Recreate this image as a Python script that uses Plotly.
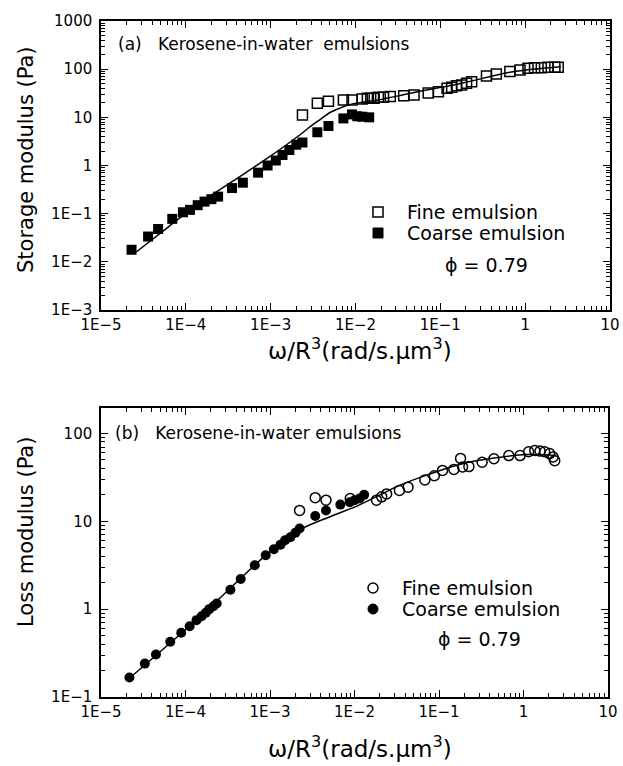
import plotly.graph_objects as go

W, H = 623, 766

# ---------------- data: storage modulus (panel a) ----------------
fine_gp_x = [2.37e-3, 3.55e-3, 4.8e-3, 7.2e-3, 9.1e-3, 1.2e-2, 1.38e-2, 1.51e-2, 1.66e-2,
             1.86e-2, 2.14e-2, 2.57e-2, 3.7e-2, 4.9e-2, 7.2e-2, 9.5e-2, 0.12, 0.136, 0.155,
             0.178, 0.204, 0.234, 0.35, 0.457, 0.66, 0.87, 1.08, 1.29, 1.55, 1.86, 2.24, 2.45]
fine_gp_y = [11.2, 19.5, 21.5, 23, 23, 24, 25, 25, 25,
             26, 26, 27, 28, 29, 32, 34, 40, 42, 45,
             47, 51, 55, 72, 79, 89, 96, 105, 107, 107, 110, 110, 110]

coarse_gp_x = [2.29e-5, 3.59e-5, 4.71e-5, 6.92e-5, 9.25e-5, 1.12e-4, 1.38e-4, 1.66e-4, 2.0e-4,
               2.4e-4, 3.5e-4, 4.7e-4, 7.1e-4, 9.2e-4, 1.15e-3, 1.38e-3, 1.66e-3, 2.0e-3,
               2.37e-3, 3.55e-3, 4.8e-3, 7.2e-3, 9.1e-3, 1.05e-2, 1.2e-2, 1.45e-2]
coarse_gp_y = [0.0178, 0.0335, 0.048, 0.078, 0.107, 0.12, 0.15, 0.178, 0.2,
               0.226, 0.34, 0.44, 0.71, 1.0, 1.27, 1.65, 2.1, 2.7,
               3.0, 4.9, 6.6, 9.5, 11.5, 10.5, 10.3, 10.0]

fit_gp_x = [2.6e-5, 6.3e-5, 1.45e-4, 3.55e-4, 8.8e-4, 2.2e-3, 2.95e-3, 4.0e-3, 5.0e-3,
            6.3e-3, 8.3e-3, 1.26e-2, 1.86e-2, 4.6e-2, 0.178, 0.69, 2.63]
fit_gp_y = [0.016, 0.054, 0.166, 0.47, 1.35, 4.3, 6.5, 9.5, 12.6,
            15.1, 18.2, 20.9, 23, 32, 51, 87, 112]

# ---------------- data: loss modulus (panel b) ----------------
fine_gpp_x = [2.24e-3, 3.43e-3, 4.6e-3, 8.9e-3, 1.82e-2, 2.1e-2, 2.4e-2, 3.4e-2, 4.3e-2,
              6.8e-2, 8.8e-2, 0.11, 0.15, 0.18, 0.19, 0.226, 0.324, 0.447, 0.67, 0.91,
              1.15, 1.36, 1.57, 1.78, 2.04, 2.24, 2.34]
fine_gpp_y = [13.3, 18.6, 17.4, 18.2, 17.4, 19, 20.5, 22.5, 24.5,
              29.5, 33, 38, 39, 52, 41.5, 42, 47, 51.5, 56, 56,
              62, 64, 63, 62, 59, 54, 49]

coarse_gpp_x = [2.17e-5, 3.3e-5, 4.47e-5, 6.6e-5, 8.9e-5, 1.12e-4, 1.35e-4, 1.55e-4, 1.74e-4,
                1.91e-4, 2.14e-4, 2.34e-4, 3.4e-4, 4.5e-4, 6.6e-4, 8.9e-4, 1.11e-3, 1.33e-3,
                1.51e-3, 1.74e-3, 2.0e-3, 2.24e-3, 3.43e-3, 4.6e-3, 6.8e-3, 8.8e-3, 1.0e-2,
                1.15e-2, 1.3e-2]
coarse_gpp_y = [0.167, 0.24, 0.305, 0.425, 0.54, 0.64, 0.75, 0.83, 0.91,
                1.0, 1.08, 1.16, 1.66, 2.2, 3.16, 4.1, 4.8, 5.4,
                6.1, 6.6, 7.4, 8.3, 11.5, 13.3, 15.5, 16.5, 17.4,
                18.2, 20]

fit_gpp_x = [2.4e-5, 1.46e-4, 8.9e-4, 2.2e-3, 5.4e-3, 1.1e-2, 2.0e-2, 3.2e-2, 7.4e-2,
             0.18, 0.45, 1.1, 2.45]
fit_gpp_y = [0.178, 0.81, 4.1, 7.9, 11.5, 15.1, 20, 25, 34,
             44.7, 52.5, 57.5, 56]

x_tick_vals = [1e-5, 1e-4, 1e-3, 1e-2, 1e-1, 1, 10]
x_tick_text = ["1E\u22125", "1E\u22124", "1E\u22123", "1E\u22122", "1E\u22121", "1", "10"]
y1_tick_vals = [1e-3, 1e-2, 1e-1, 1, 10, 100, 1000]
y1_tick_text = ["1E\u22123", "1E\u22122", "1E\u22121", "1", "10", "100", "1000"]
y2_tick_vals = [1e-1, 1, 10, 100]
y2_tick_text = ["1E\u22121", "1", "10", "100"]

FONT = "DejaVu Sans"


def minor_vals(lo, hi):
    out = []
    for e in range(lo, hi):
        for m in range(2, 10):
            out.append(m * 10 ** e)
    return out


def px(x):
    return x / W


def py(y):
    return 1 - y / H


fig = go.Figure()

# panel a
fig.add_trace(go.Scatter(x=fit_gp_x, y=fit_gp_y, mode="lines", line=dict(color="black", width=1.5, shape="spline"),
                         xaxis="x", yaxis="y", showlegend=False))
fig.add_trace(go.Scatter(x=coarse_gp_x, y=coarse_gp_y, mode="markers",
                         marker=dict(symbol="square", size=10, color="black"),
                         xaxis="x", yaxis="y", showlegend=False))
fig.add_trace(go.Scatter(x=fine_gp_x, y=fine_gp_y, mode="markers",
                         marker=dict(symbol="square-open", size=10, color="black", line=dict(width=1.5)),
                         xaxis="x", yaxis="y", showlegend=False))
# panel b
fig.add_trace(go.Scatter(x=fit_gpp_x, y=fit_gpp_y, mode="lines", line=dict(color="black", width=1.5, shape="spline"),
                         xaxis="x2", yaxis="y2", showlegend=False))
fig.add_trace(go.Scatter(x=coarse_gpp_x, y=coarse_gpp_y, mode="markers",
                         marker=dict(symbol="circle", size=10, color="black"),
                         xaxis="x2", yaxis="y2", showlegend=False))
fig.add_trace(go.Scatter(x=fine_gpp_x, y=fine_gpp_y, mode="markers",
                         marker=dict(symbol="circle-open", size=10, color="black", line=dict(width=1.5)),
                         xaxis="x2", yaxis="y2", showlegend=False))

axis_common = dict(
    type="log", showgrid=False, zeroline=False, showline=True, linecolor="black", linewidth=1.5,
    mirror="ticks", ticks="inside", ticklen=7, tickwidth=1.2, tickcolor="black",
    tickfont=dict(family=FONT, size=15, color="black"), automargin=False,
)

fig.update_layout(
    width=W, height=H, margin=dict(l=0, r=0, t=0, b=0),
    paper_bgcolor="white", plot_bgcolor="white", showlegend=False,
    xaxis=dict(axis_common, range=[-5, 1], domain=[px(101), px(610)], anchor="y",
               tickvals=x_tick_vals, ticktext=x_tick_text,
               minor=dict(ticks="inside", ticklen=4, tickcolor="black", tickvals=minor_vals(-5, 1))),
    yaxis=dict(axis_common, range=[-3, 3], domain=[py(310), py(21)], anchor="x",
               tickvals=y1_tick_vals, ticktext=y1_tick_text, ticklabelstandoff=4,
               minor=dict(ticks="inside", ticklen=4, tickcolor="black", tickvals=minor_vals(-3, 3))),
    xaxis2=dict(axis_common, range=[-5, 1], domain=[px(101), px(608)], anchor="y2",
                tickvals=x_tick_vals, ticktext=x_tick_text,
                minor=dict(ticks="inside", ticklen=4, tickcolor="black", tickvals=minor_vals(-5, 1))),
    yaxis2=dict(axis_common, range=[-1, 2.29], domain=[py(697), py(408)], anchor="x2",
                tickvals=y2_tick_vals, ticktext=y2_tick_text, ticklabelstandoff=4,
                minor=dict(ticks="inside", ticklen=4, tickcolor="black", tickvals=minor_vals(-1, 3))),
)

ann = []


def txt(x, y, s, size, xanchor="left", angle=0):
    ann.append(dict(x=px(x), y=py(y), xref="paper", yref="paper", text=s, showarrow=False,
                    xanchor=xanchor, yanchor="middle", textangle=angle,
                    font=dict(family=FONT, size=size, color="black")))


# panel labels
txt(116, 44, "(a)&nbsp;&nbsp;&nbsp;Kerosene-in-water&nbsp;&nbsp;emulsions", 17)
txt(113, 433, "(b)&nbsp;&nbsp;&nbsp;Kerosene-in-water&nbsp;emulsions", 17)
# axis titles
txt(360, 349, "\u03c9/R<sup>3</sup>(rad/s.\u03bcm<sup>3</sup>)", 23, "center")
txt(360, 747, "\u03c9/R<sup>3</sup>(rad/s.\u03bcm<sup>3</sup>)", 23, "center")
txt(26, 160, "Storage modulus (Pa)", 21, "center", -90)
txt(26, 532, "Loss modulus (Pa)", 21, "center", -90)
# legends
txt(405, 212, "Fine emulsion", 19)
txt(405, 233, "Coarse emulsion", 19)
txt(486, 265, "\u03d5 = 0.79", 19, "center")
txt(400, 588, "Fine emulsion", 19)
txt(400, 609, "Coarse emulsion", 19)
txt(479, 639, "\u03d5 = 0.79", 19, "center")
fig.update_layout(annotations=ann)

shapes = [
    dict(type="rect", xref="paper", yref="paper", x0=px(373), x1=px(383), y0=py(217), y1=py(207),
         line=dict(color="black", width=1.5), fillcolor="white"),
    dict(type="rect", xref="paper", yref="paper", x0=px(373), x1=px(383), y0=py(238), y1=py(228),
         line=dict(color="black", width=1), fillcolor="black"),
    dict(type="circle", xref="paper", yref="paper", x0=px(368), x1=px(378), y0=py(593), y1=py(583),
         line=dict(color="black", width=1.5), fillcolor="white"),
    dict(type="circle", xref="paper", yref="paper", x0=px(368), x1=px(378), y0=py(614), y1=py(604),
         line=dict(color="black", width=1), fillcolor="black"),
]
fig.update_layout(shapes=shapes)

fig.write_html("out.html", config={"displayModeBar": False},
               post_script="document.body.style.margin='0';document.body.style.overflow='hidden';")
